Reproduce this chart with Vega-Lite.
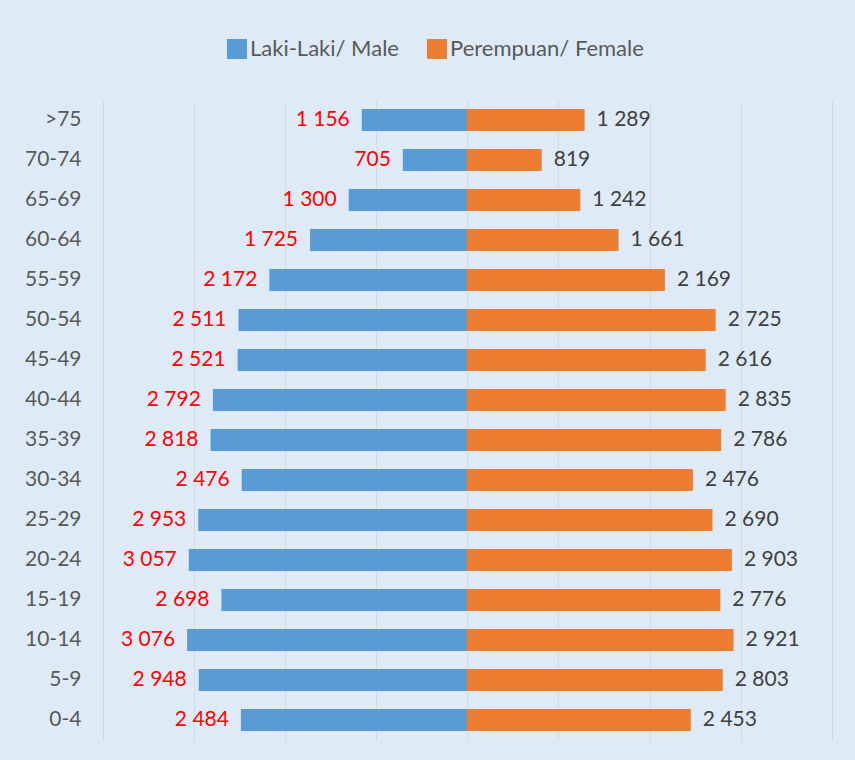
{
  "$schema": "https://vega.github.io/schema/vega-lite/v6.json",
  "background": "#deebf7",
  "padding": {"left": 5, "top": 38, "right": 23, "bottom": 20},
  "config": {
    "locale": {"number": {"decimal": ",", "thousands": " ", "grouping": [3], "currency": ["", ""]}},
    "view": {"stroke": null},
    "font": "Lato",
    "concat": {"spacing": 0}
  },
  "data": {"values": [
    {"age": ">75", "sex": "Laki-Laki/ Male", "value": 1156},
    {"age": ">75", "sex": "Perempuan/ Female", "value": 1289},
    {"age": "70-74", "sex": "Laki-Laki/ Male", "value": 705},
    {"age": "70-74", "sex": "Perempuan/ Female", "value": 819},
    {"age": "65-69", "sex": "Laki-Laki/ Male", "value": 1300},
    {"age": "65-69", "sex": "Perempuan/ Female", "value": 1242},
    {"age": "60-64", "sex": "Laki-Laki/ Male", "value": 1725},
    {"age": "60-64", "sex": "Perempuan/ Female", "value": 1661},
    {"age": "55-59", "sex": "Laki-Laki/ Male", "value": 2172},
    {"age": "55-59", "sex": "Perempuan/ Female", "value": 2169},
    {"age": "50-54", "sex": "Laki-Laki/ Male", "value": 2511},
    {"age": "50-54", "sex": "Perempuan/ Female", "value": 2725},
    {"age": "45-49", "sex": "Laki-Laki/ Male", "value": 2521},
    {"age": "45-49", "sex": "Perempuan/ Female", "value": 2616},
    {"age": "40-44", "sex": "Laki-Laki/ Male", "value": 2792},
    {"age": "40-44", "sex": "Perempuan/ Female", "value": 2835},
    {"age": "35-39", "sex": "Laki-Laki/ Male", "value": 2818},
    {"age": "35-39", "sex": "Perempuan/ Female", "value": 2786},
    {"age": "30-34", "sex": "Laki-Laki/ Male", "value": 2476},
    {"age": "30-34", "sex": "Perempuan/ Female", "value": 2476},
    {"age": "25-29", "sex": "Laki-Laki/ Male", "value": 2953},
    {"age": "25-29", "sex": "Perempuan/ Female", "value": 2690},
    {"age": "20-24", "sex": "Laki-Laki/ Male", "value": 3057},
    {"age": "20-24", "sex": "Perempuan/ Female", "value": 2903},
    {"age": "15-19", "sex": "Laki-Laki/ Male", "value": 2698},
    {"age": "15-19", "sex": "Perempuan/ Female", "value": 2776},
    {"age": "10-14", "sex": "Laki-Laki/ Male", "value": 3076},
    {"age": "10-14", "sex": "Perempuan/ Female", "value": 2921},
    {"age": "5-9", "sex": "Laki-Laki/ Male", "value": 2948},
    {"age": "5-9", "sex": "Perempuan/ Female", "value": 2803},
    {"age": "0-4", "sex": "Laki-Laki/ Male", "value": 2484},
    {"age": "0-4", "sex": "Perempuan/ Female", "value": 2453}
  ]},
  "resolve": {"scale": {"x": "independent", "y": "shared", "color": "shared"}},
  "hconcat": [
    {
      "width": 364,
      "height": 640,
      "transform": [{"filter": "datum.sex === 'Laki-Laki/ Male'"}],
      "encoding": {
        "y": {
          "field": "age", "type": "nominal",
          "sort": [">75", "70-74", "65-69", "60-64", "55-59", "50-54", "45-49", "40-44", "35-39", "30-34", "25-29", "20-24", "15-19", "10-14", "5-9", "0-4"],
          "scale": {"paddingInner": 0.45, "paddingOuter": 0.225},
          "axis": {"title": null, "domain": false, "ticks": false, "grid": false, "labelFontSize": 21, "labelColor": "#595959", "labelPadding": 22, "minExtent": 98, "maxExtent": 98}
        },
        "x": {
          "field": "value", "type": "quantitative",
          "scale": {"domain": [0, 4000], "reverse": true},
          "axis": {"title": null, "labels": false, "ticks": false, "domain": false, "grid": true, "gridColor": "#d9d9d9", "gridWidth": 1, "values": [0, 1000, 2000, 3000, 4000]}
        }
      },
      "layer": [
        {
          "mark": {"type": "bar"},
          "encoding": {
            "color": {
              "field": "sex", "type": "nominal",
              "scale": {"domain": ["Laki-Laki/ Male", "Perempuan/ Female"], "range": ["#5b9bd5", "#ed7d31"]},
              "legend": {"orient": "none", "legendX": 123, "legendY": -62, "direction": "horizontal", "title": null, "symbolType": "square", "symbolSize": 400, "symbolStrokeWidth": 0, "labelFontSize": 22, "labelColor": "#595959", "labelOffset": 2, "labelLimit": 400, "columnPadding": 27}
            }
          }
        },
        {
          "mark": {"type": "text", "align": "right", "baseline": "middle", "dx": -12, "fontSize": 21, "color": "#ff0000"},
          "encoding": {"text": {"field": "value", "type": "quantitative", "format": ","}}
        }
      ]
    },
    {
      "width": 365,
      "height": 640,
      "transform": [{"filter": "datum.sex === 'Perempuan/ Female'"}],
      "encoding": {
        "y": {
          "field": "age", "type": "nominal",
          "sort": [">75", "70-74", "65-69", "60-64", "55-59", "50-54", "45-49", "40-44", "35-39", "30-34", "25-29", "20-24", "15-19", "10-14", "5-9", "0-4"],
          "axis": null
        },
        "x": {
          "field": "value", "type": "quantitative",
          "scale": {"domain": [0, 4000]},
          "axis": {"title": null, "labels": false, "ticks": false, "domain": false, "grid": true, "gridColor": "#d9d9d9", "gridWidth": 1, "values": [0, 1000, 2000, 3000, 4000]}
        }
      },
      "layer": [
        {
          "mark": {"type": "bar"},
          "encoding": {
            "color": {
              "field": "sex", "type": "nominal",
              "scale": {"domain": ["Laki-Laki/ Male", "Perempuan/ Female"], "range": ["#5b9bd5", "#ed7d31"]},
              "legend": {"orient": "none", "legendX": 123, "legendY": -62, "direction": "horizontal", "title": null, "symbolType": "square", "symbolSize": 400, "symbolStrokeWidth": 0, "labelFontSize": 22, "labelColor": "#595959", "labelOffset": 2, "labelLimit": 400, "columnPadding": 27}
            }
          }
        },
        {
          "mark": {"type": "text", "align": "left", "baseline": "middle", "dx": 12, "fontSize": 21, "color": "#404040"},
          "encoding": {"text": {"field": "value", "type": "quantitative", "format": ","}}
        }
      ]
    }
  ]
}
